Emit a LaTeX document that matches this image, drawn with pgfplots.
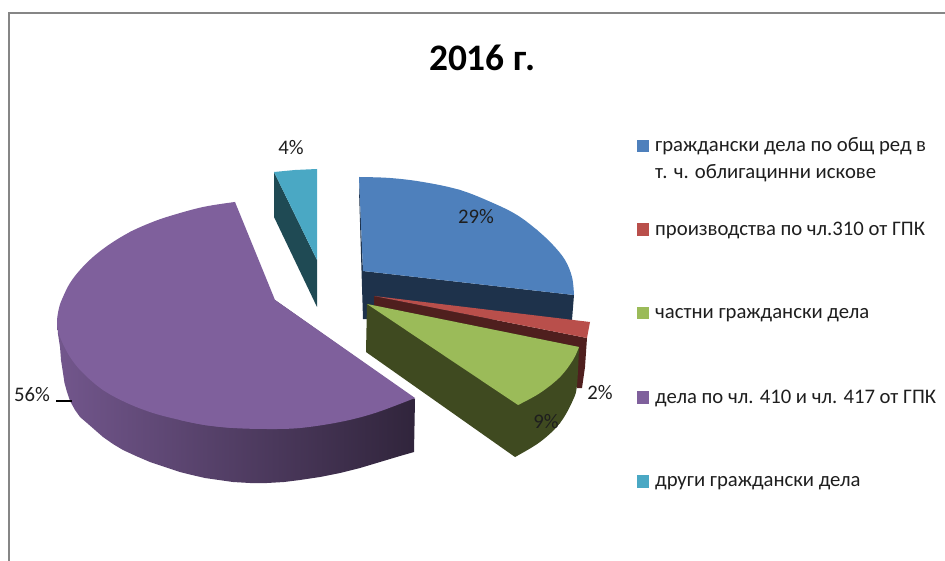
\documentclass[border=0pt]{standalone}
\usepackage{fontspec}
\setmainfont{Carlito}
\usepackage{pgfplots}
\pgfplotsset{compat=1.18}
\definecolor{bluetop}{HTML}{4E80BC}\definecolor{blueside}{HTML}{1E324B}
\definecolor{redtop}{HTML}{B94F4B}\definecolor{redside}{HTML}{4F1F1E}
\definecolor{greentop}{HTML}{9BBB59}\definecolor{greenside}{HTML}{3F4A20}
\definecolor{purpletop}{HTML}{7F609C}
\definecolor{tealtop}{HTML}{4AA8C4}\definecolor{tealside}{HTML}{1F4A54}
\definecolor{frame}{HTML}{868686}\definecolor{txt}{HTML}{1E1E1E}
\pgfplotsset{poly/.style={draw=none,fill=#1,forget plot,no markers},
 arc/.style={draw=none,fill=#1,forget plot,no markers,smooth,tension=0.6}}
\begin{document}
\begin{tikzpicture}
\begin{axis}[scale only axis,width=945pt,height=561pt,xmin=0,xmax=945,ymin=0,ymax=561,y dir=reverse,hide axis,clip=true]
% full-size extent
\addplot[draw=none,forget plot,no markers] coordinates {(0,0)(945,561)};
% frame
\addplot[frame,line width=2pt,forget plot,no markers] coordinates {(8.7,561)(8.7,12.7)(945,12.7)};
% purple side
\addplot[draw=none,forget plot,no markers,left color=purpletop!90!black,middle color=purpletop!65!black,right color=purpletop!38!black,shading angle=90] coordinates {
(57,320)(58,334)(60,347)(61,360)(63,373)(64.5,383)(67,392)(70,401)(75,410)(80,417)(87,423)(95,430)(103,437)(113,444)(123,450)(136,456)(150,462)(165,467)(180,472)(192,475)(205,478)(219,480)(233,482)(250,483)(267,483)(284,482)(300,480)(320,477)(340,473)(360,468)(380,462)(400,456)(414,452)(415,399)(275,300)};
% purple top
\addplot[arc=purpletop] coordinates {(235,202)(203,207)(170,216)(150,223)(130,232)(110,244)(93,257)(80,270)(70,283)(63,297)(59,308)(57,323)(60,337)(70,357)(83,373)(103,390)(127,403)(153,413)(180,420)(205,425)(233,428)};
\addplot[arc=purpletop] coordinates {(180,420)(205,425)(233,428)(267,429)(300,428)(340,422)(375,413)(415,398)};
\addplot[poly=purpletop] coordinates {(235,202)(130,232)(57,323)(103,390)(205,425)(300,428)(415,398)(275,300)};
% teal
\addplot[poly=tealside] coordinates {(274,172)(317,260)(317,307)(274,217)};
\addplot[poly=tealtop] coordinates {(274,172)(295,170)(317,169)(317,260)};
% blue side
\addplot[poly=blueside] coordinates {(359,177)(363,271)(574,295)(572,320)(363,319)(359,190)};
% blue top
\addplot[arc=bluetop] coordinates {(359,177)(390,178)(423,182)(460,190)(493,203)(517,215)(537,230)(553,245)(565,260)(572,277)(574,295)};
\addplot[poly=bluetop] coordinates {(359,177)(460,190)(537,230)(574,295)(363,271)};
% red
\addplot[poly=redside] coordinates {(374,296)(587,338)(585,367)(582,388)(577,388)(575,347)(374,310)};
\addplot[poly=redtop] coordinates {(374,296)(590,322)(587,338)};
% green
\addplot[arc=greenside] coordinates {(579,347)(577,385)(573,400)(560,423)(540,442)(515,457)};
\addplot[poly=greenside] coordinates {(367,304)(366,352)(515,457)(560,423)(579,347)};
\addplot[arc=greentop] coordinates {(579,347)(573,360)(560,377)(540,393)(518,405)};
\addplot[poly=greentop] coordinates {(367,304)(579,347)(560,377)(518,405)};
% leader
\addplot[black,line width=1.4pt,forget plot,no markers] coordinates {(56,401)(72,401)};
% legend keys
\addplot[poly=bluetop] coordinates {(637,140)(649,140)(649,152.5)(637,152.5)};
\addplot[poly=redtop] coordinates {(637,223.5)(649,223.5)(649,236)(637,236)};
\addplot[poly=greentop] coordinates {(637,307)(649,307)(649,319.5)(637,319.5)};
\addplot[poly=purpletop] coordinates {(637,391)(649,391)(649,403.5)(637,403.5)};
\addplot[poly=tealtop] coordinates {(637,475)(649,475)(649,487.5)(637,487.5)};
% texts
\node[font=\fontsize{37.4}{37.4}\selectfont\bfseries,text=black] at (axis cs:482,58) {2016 г.};
\tikzset{lab/.style={font=\fontsize{20.7}{20.7}\selectfont,text=txt,inner sep=0pt},leg/.style={lab,anchor=base west}}
\node[lab] at (axis cs:476,217) {29\%};
\node[lab] at (axis cs:600,393) {2\%};
\node[lab] at (axis cs:546,422) {9\%};
\node[lab] at (axis cs:32,395) {56\%};
\node[lab] at (axis cs:291,148) {4\%};
\node[leg] at (axis cs:655,152) {граждански дела по общ ред в};
\node[leg] at (axis cs:655,179) {т. ч. облигацинни искове};
\node[leg] at (axis cs:655,236) {производства по чл.310 от ГПК};
\node[leg] at (axis cs:655,319) {частни граждански дела};
\node[leg] at (axis cs:655,403) {дела по чл. 410 и чл. 417 от ГПК};
\node[leg] at (axis cs:655,486) {други граждански дела};
\end{axis}
\end{tikzpicture}
\end{document}
